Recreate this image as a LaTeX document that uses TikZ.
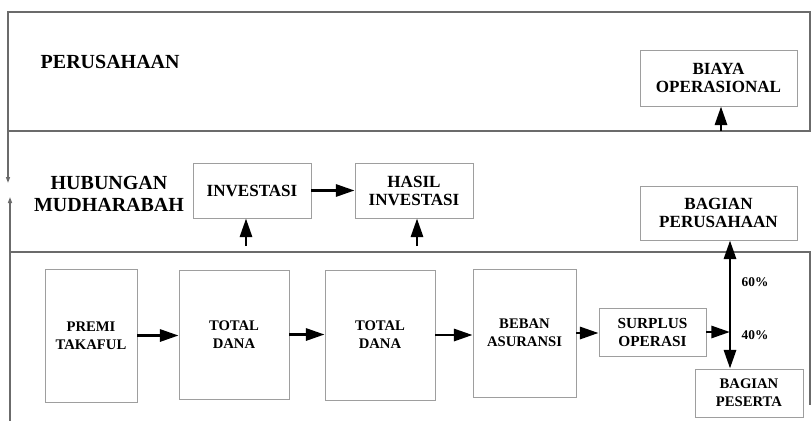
\documentclass[tikz,border=0pt]{standalone}
\usepackage{fontspec}
\setmainfont{Liberation Serif}
\usepackage{tikz}
\usetikzlibrary{positioning, arrows.meta}

\definecolor{lanegray}{gray}{0.42}
\definecolor{boxgray}{gray}{0.62}

\begin{document}
\begin{tikzpicture}[
    x=0.75pt, y=-0.75pt,
    >={Triangle[length=14pt, width=9pt]},
    box/.style={rectangle, draw=boxgray, line width=0.6pt, inner sep=0pt, align=center, font=\bfseries\fontsize{11}{13.5}\selectfont},
    bigbox/.style={box, font=\bfseries\fontsize{12.8}{13.5}\selectfont},
    heading/.style={align=center, font=\bfseries\fontsize{15}{17.2}\selectfont},
    lane/.style={draw=lanegray, line width=1pt},
    flow/.style={->, line width=2.2pt},
    pct/.style={font=\bfseries\fontsize{10}{12}\selectfont}
]
    \useasboundingbox (0,0) rectangle (811,421);
    % Lanes
    \coordinate (gaptop) at (8,183);
    \coordinate (gapbot) at (10,197);
    \draw[lane, -{Triangle[length=4.5pt, width=3pt]}] (8,131) -- (810,131) -- (810,12) -- (8,12) -- (gaptop);
    \draw[lane, -{Triangle[length=4.5pt, width=3pt]}] (10,421) -- (gapbot);
    \draw[lane] (10,252) -- (810,252) -- (810,405);
    % Lane titles
    \node[heading, anchor=west] (perusahaan) at (36,62) {PERUSAHAAN};
    \node[heading] (mudharabah) at (109,194) {HUBUNGAN\\MUDHARABAH};
    % Top and middle boxes
    \node[bigbox, minimum width=117.75pt, minimum height=42pt] (biaya) at (718.5,78) {BIAYA\\OPERASIONAL};
    \node[bigbox, minimum width=88.5pt, minimum height=41.25pt] (invest) at (252,190.5) {INVESTASI};
    \node[bigbox, minimum width=88.5pt, minimum height=41.25pt] (hasil) at (414,190.5) {HASIL\\INVESTASI};
    \node[bigbox, minimum width=117.75pt, minimum height=40.5pt] (bagper) at (718.5,213) {BAGIAN\\PERUSAHAAN};
    % Bottom flow
    \node[box, minimum width=69pt, minimum height=99.75pt] (premi) at (91,335.5) {PREMI\\TAKAFUL};
    \node[box, minimum width=82.5pt, minimum height=96.75pt] (dana1) at (234,334.5) {TOTAL\\DANA};
    \node[box, minimum width=82.5pt, minimum height=97.5pt] (dana2) at (380,335) {TOTAL\\DANA};
    \node[box, minimum width=77.25pt, minimum height=96pt] (beban) at (524.5,333) {BEBAN\\ASURANSI};
    \node[box, minimum width=80.25pt, minimum height=36pt, font=\bfseries\fontsize{11.5}{13.5}\selectfont] (surplus) at (652.5,332) {SURPLUS\\OPERASI};
    \node[box, minimum width=81pt, minimum height=36pt] (peserta) at (749,393) {BAGIAN\\PESERTA};
    % Arrows
    \coordinate (tobiaya) at (721,131);
    \coordinate (toinvest) at (246,246);
    \coordinate (tohasil) at (417,246);
    \coordinate (split) at (730,332);
    \draw[flow] (tobiaya) -- (tobiaya |- biaya.south);
    \draw[flow] (toinvest) -- (toinvest |- invest.south);
    \draw[flow] (tohasil) -- (tohasil |- hasil.south);
    \draw[flow] (invest.east) -- (hasil.west);
    \draw[flow] (premi.east) -- (premi.east -| dana1.west);
    \draw[flow] (dana1.east) -- (dana1.east -| dana2.west);
    \draw[flow] (dana2.east) -- (dana2.east -| beban.west);
    \draw[flow] (beban.east) -- (beban.east -| surplus.west);
    \draw[flow] (surplus.east) -- (split);
    \draw[<->, line width=2.2pt] (split |- bagper.south) -- (split |- peserta.north);
    % Shares
    \node[pct] (enam) at (755,282) {60\%};
    \node[pct] (empat) at (755,335) {40\%};
\end{tikzpicture}
\end{document}
